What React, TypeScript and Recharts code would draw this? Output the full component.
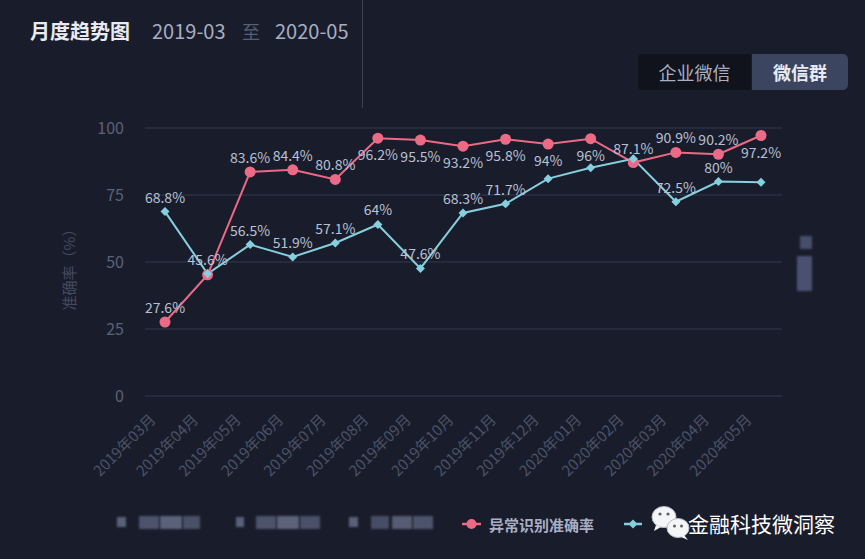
import { LineChart, Line, XAxis, YAxis, CartesianGrid } from "recharts";

const months = [
  "2019年03月", "2019年04月", "2019年05月", "2019年06月", "2019年07月",
  "2019年08月", "2019年09月", "2019年10月", "2019年11月", "2019年12月",
  "2020年01月", "2020年02月", "2020年03月", "2020年04月", "2020年05月",
];
// 异常识别准确率
const anomalyRate = [27.6, 45.2, 83.6, 84.4, 80.8, 96.2, 95.5, 93.2, 95.8, 94, 96, 87.1, 90.9, 90.2, 97.2];
const anomalyLabelShown = [true, false, true, true, true, true, true, true, true, true, true, true, true, true, true];
// second series (legend text hidden behind the watermark)
const groupRate = [68.8, 45.6, 56.5, 51.9, 57.1, 64, 47.6, 68.3, 71.7, 81.1, 85.2, 88.5, 72.5, 80, 79.8];
const groupLabelShown = [true, true, true, true, true, true, true, true, true, false, false, false, true, true, false];
const yTicks = [0, 25, 50, 75, 100];

const BG = "#191d2b";
const RED = "#ec6a86";
const BLUE = "#86cfdf";
const FONT = "'Noto Sans CJK SC', 'Noto Sans', sans-serif";

const chartData = months.map((m, i) => ({ month: m, anomaly: anomalyRate[i], group: groupRate[i] }));

function MonthTick(props: any) {
  const { x, y, payload } = props;
  return (
    <g transform={`translate(${x - 13},${y + 12})`}>
      <text x={0} y={0} textAnchor="end" dominantBaseline="central" transform="rotate(-45)" fill="#4b5267" fontSize={15} fontFamily={FONT}>
        {payload.value}
      </text>
    </g>
  );
}

function AnomalyLabel(props: any) {
  const { x, y, value, index } = props;
  if (!anomalyLabelShown[index]) return null;
  const below = value >= 93;
  return (
    <text x={x} y={below ? y + 16 : y - 15} textAnchor="middle" dominantBaseline="central" fill="#b9c0d4" fontSize={14} fontFamily={FONT}>
      {value}%
    </text>
  );
}

function GroupLabel(props: any) {
  const { x, y, value, index } = props;
  if (!groupLabelShown[index]) return null;
  return (
    <text x={x} y={y - 15} textAnchor="middle" dominantBaseline="central" fill="#b9c0d4" fontSize={14} fontFamily={FONT}>
      {value}%
    </text>
  );
}

function Diamond(props: any) {
  const { cx, cy, index } = props;
  if (cx == null || cy == null) return null;
  const r = 4.5;
  return <path key={`dm-${index}`} d={`M${cx},${cy - r}L${cx + r},${cy}L${cx},${cy + r}L${cx - r},${cy}Z`} fill={BLUE} />;
}

function Blur({ x, y, w, h, c }: { x: number; y: number; w: number; h: number; c: string }) {
  return <div style={{ position: "absolute", left: x, top: y, width: w, height: h, background: c, filter: "blur(0.8px)" }} />;
}

export default function App() {
  return (
    <div style={{ position: "relative", width: 865, height: 559, background: BG, overflow: "hidden", fontFamily: FONT }}>
      <style>{`body{margin:0;background:${BG};}`}</style>

      {/* header */}
      <div style={{ position: "absolute", left: 30, top: 17, fontSize: 20, fontWeight: 700, color: "#e9ebf2", lineHeight: "28px" }}>月度趋势图</div>
      <div style={{ position: "absolute", left: 152, top: 17, fontSize: 20, color: "#a8aec2", lineHeight: "28px" }}>2019-03</div>
      <div style={{ position: "absolute", left: 242, top: 17, fontSize: 18, color: "#585f75", lineHeight: "28px" }}>至</div>
      <div style={{ position: "absolute", left: 275, top: 17, fontSize: 20, color: "#a8aec2", lineHeight: "28px" }}>2020-05</div>
      <div style={{ position: "absolute", left: 362, top: 0, width: 1, height: 108, background: "#3a4052" }} />

      {/* switch buttons */}
      <div style={{ position: "absolute", left: 638, top: 54, width: 113, height: 36, background: "#10131b", color: "#aab0c3", fontSize: 18, display: "flex", alignItems: "center", justifyContent: "center", borderRadius: "4px 0 0 4px" }}>企业微信</div>
      <div style={{ position: "absolute", left: 752, top: 54, width: 96, height: 36, background: "#3b455f", color: "#e8eaf1", fontSize: 18, fontWeight: 700, display: "flex", alignItems: "center", justifyContent: "center", borderRadius: "0 5px 5px 0" }}>微信群</div>

      {/* y axis name */}
      <div style={{ position: "absolute", left: 68, top: 266, transform: "translate(-50%,-50%) rotate(-90deg)", whiteSpace: "nowrap", fontSize: 15, color: "#444b61" }}>准确率（%）</div>

      {/* blurred right-side label */}
      <Blur x={800} y={236} w={12} h={13} c="#474e6a" />
      <Blur x={797} y={256} w={15} h={35} c="#4a5170" />

      <div style={{ position: "absolute", left: 0, top: 0 }}>
        <LineChart width={865} height={559} data={chartData} margin={{ top: 128, right: 83, bottom: 83, left: 85 }}>
          <CartesianGrid vertical={false} stroke="#2a3043" strokeWidth={1.5} />
          <XAxis dataKey="month" interval={0} axisLine={false} tickLine={false} height={80} padding={{ left: 20, right: 21 }} tick={<MonthTick />} />
          <YAxis
            domain={[0, 100]}
            ticks={yTicks}
            width={60}
            axisLine={false}
            tickLine={false}
            tickSize={0}
            tickMargin={21}
            tick={{ fill: "#5b6278", fontSize: 16, fontFamily: FONT }}
          />
          <Line
            dataKey="anomaly"
            stroke={RED}
            strokeWidth={2}
            dot={{ r: 5.5, fill: RED, stroke: RED, strokeWidth: 0 }}
            activeDot={false}
            label={<AnomalyLabel />}
            isAnimationActive={false}
          />
          <Line
            dataKey="group"
            stroke={BLUE}
            strokeWidth={2}
            dot={<Diamond />}
            activeDot={false}
            label={<GroupLabel />}
            isAnimationActive={false}
          />
        </LineChart>
      </div>

      {/* legend (first three items are pixelated in the source) */}
      <Blur x={117} y={517} w={9} h={10} c="#5a6079" />
      <Blur x={139} y={516} w={20} h={13} c="#4d536b" />
      <Blur x={160} y={516} w={22} h={13} c="#5b6179" />
      <Blur x={183} y={516} w={17} h={13} c="#4a5068" />
      <Blur x={236} y={517} w={8} h={10} c="#5a6079" />
      <Blur x={256} y={516} w={20} h={13} c="#4d536b" />
      <Blur x={277} y={516} w={22} h={13} c="#5c627a" />
      <Blur x={300} y={516} w={20} h={13} c="#4a5068" />
      <Blur x={349} y={517} w={9} h={10} c="#5a6079" />
      <Blur x={371} y={516} w={18} h={13} c="#474d64" />
      <Blur x={392} y={516} w={20} h={13} c="#565c74" />
      <Blur x={413} y={516} w={20} h={13} c="#4d536b" />

      <svg style={{ position: "absolute", left: 0, top: 0 }} width={865} height={559}>
        <line x1={462} y1={524} x2={481} y2={524} stroke={RED} strokeWidth={2.5} />
        <circle cx={471.5} cy={524} r={5} fill={RED} />
        <text x={489} y={524} dominantBaseline="central" fill="#a9afc3" fontSize={15} fontWeight={600} fontFamily={FONT}>异常识别准确率</text>
        <line x1={624} y1={524} x2={642} y2={524} stroke={BLUE} strokeWidth={2.5} />
        <path d="M633,519.5L637.5,524L633,528.5L628.5,524Z" fill={BLUE} />
        {/* watermark icon */}
        <ellipse cx={664} cy={517} rx={12} ry={10.5} fill="#f4f5f7" stroke="#b9bcc4" strokeWidth={1} />
        <path d="M656,525 L654,531 L661,527 Z" fill="#f4f5f7" />
        <circle cx={660} cy={514} r={1.6} fill="#5a5f6b" />
        <circle cx={668} cy={514} r={1.6} fill="#5a5f6b" />
        <ellipse cx={678} cy={528} rx={11} ry={9.5} fill="#f4f5f7" stroke="#b9bcc4" strokeWidth={1} />
        <path d="M684,535 L688,540 L681,537 Z" fill="#f4f5f7" />
        <circle cx={674.5} cy={526} r={1.5} fill="#5a5f6b" />
        <circle cx={681.5} cy={526} r={1.5} fill="#5a5f6b" />
        <text x={688} y={523} dominantBaseline="central" fill="#ffffff" fontSize={21} fontFamily={FONT}>金融科技微洞察</text>
      </svg>
    </div>
  );
}
